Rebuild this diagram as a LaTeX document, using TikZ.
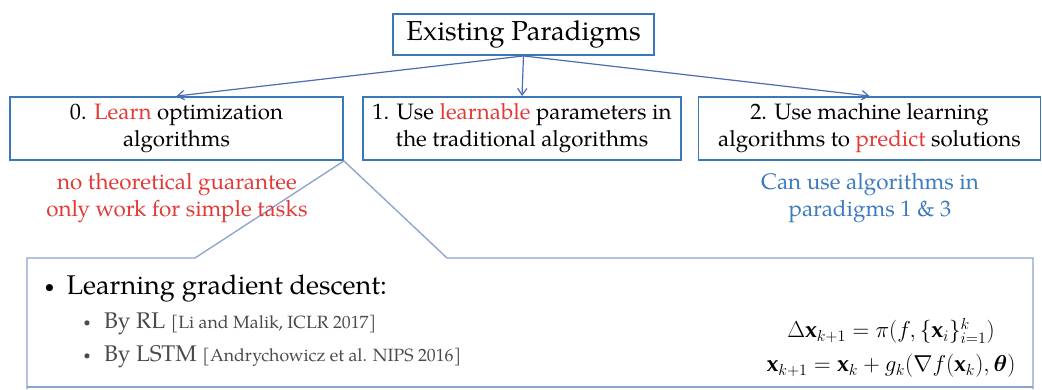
\documentclass[tikz,border=0pt]{standalone}
\usepackage{amsmath}
\usepackage{fontspec}
\setmainfont{TeX Gyre Pagella}
\usetikzlibrary{arrows.meta}
\definecolor{boxblue}{HTML}{3A78B8}
\definecolor{arrowblue}{HTML}{4A6DB5}
\definecolor{calloutblue}{HTML}{8CA3CC}
\definecolor{hotred}{HTML}{E23A36}
\definecolor{noteblue}{HTML}{3C7BC0}
\definecolor{subgray}{HTML}{4A4A4A}
\newcommand{\smallbullet}[1]{\raisebox{0.22ex}{\scalebox{#1}{\textbullet}}}
\tikzset{
  paradigm/.style={draw=boxblue, line width=1.4pt, align=center, inner sep=0pt,
    font=\fontsize{16.7}{20.25}\selectfont},
  branch/.style={draw=arrowblue, line width=0.9pt, -{Straight Barb[length=5pt,width=7pt]}},
  callout/.style={draw=calloutblue, line width=1pt},
  remark/.style={align=center, font=\fontsize{16.8}{20.25}\selectfont},
  formula/.style={inner sep=0pt, font=\fontsize{17.6}{22}\selectfont},
}
\begin{document}
\begin{tikzpicture}[x=0.75pt,y=-0.75pt]
  \useasboundingbox[fill=white] (0,0) rectangle (1042,389);

  % top-level node
  \node[paradigm, minimum width=195.75pt, minimum height=30.75pt,
        font=\fontsize{20.6}{24}\selectfont] (title) at (523.5,34.5) {Existing Paradigms};

  % the three paradigms
  \node[paradigm, minimum width=249.75pt, minimum height=47.25pt] (p0) at (176.5,128.5)
    {0. \textcolor{hotred}{Learn} optimization\\algorithms};
  \node[paradigm, minimum width=238.5pt, minimum height=47.25pt] (p1) at (522,128.5)
    {1. Use \textcolor{hotred}{learnable} parameters in\\the traditional algorithms};
  \node[paradigm, minimum width=256.5pt, minimum height=47.25pt] (p2) at (869.5,128.5)
    {2. Use machine learning\\algorithms to \textcolor{hotred}{predict} solutions};

  \draw[branch] (title.south) -- (p0.north);
  \draw[branch] (title.south) -- (p1.north);
  \draw[branch] (title.south) -- (p2.north);

  % callout expanding paradigm 0
  \draw[callout] (27,389) -- (27,258) -- (195,258) -- (p0.south east)
    -- (447,258) -- (1033,258) -- (1033,389);
  \draw[calloutblue, line width=1pt] (27,387) -- (1033,387);

  % remarks under the boxes
  \node[remark, text=hotred] (r0) at (177,198.5)
    {no theoretical guarantee\\only work for simple tasks};
  \node[remark, text=noteblue] (r2) at (870,198.5)
    {Can use algorithms in\\paradigms 1 \& 3};

  \node[anchor=west, font=\fontsize{20.3}{24}\selectfont] (lgd) at (40,289)
    {\smallbullet{0.65}\hspace{9pt}Learning gradient descent:};
  \node[anchor=west, text=subgray, font=\fontsize{17}{20}\selectfont] (rl) at (79,324)
    {\smallbullet{0.55}\hspace{10pt}By RL {\fontsize{13.3}{15}\selectfont[Li and Malik, ICLR 2017]}};
  \node[anchor=west, text=subgray, font=\fontsize{17}{20}\selectfont] (lstm) at (79,357)
    {\smallbullet{0.55}\hspace{10pt}By LSTM {\fontsize{13.3}{15}\selectfont[Andrychowicz et al. NIPS 2016]}};

  % update rules, one node per line
  \node[formula] (eqa) at (891,331)
    {$\Delta\mathbf{x}_{k+1} = \pi(f,\{\mathbf{x}_i\}_{i=1}^{k})$};
  \node[formula] (eqb) at (891,366)
    {$\mathbf{x}_{k+1} = \mathbf{x}_k + g_k(\nabla f(\mathbf{x}_k),\boldsymbol{\theta})$};
\end{tikzpicture}
\end{document}
